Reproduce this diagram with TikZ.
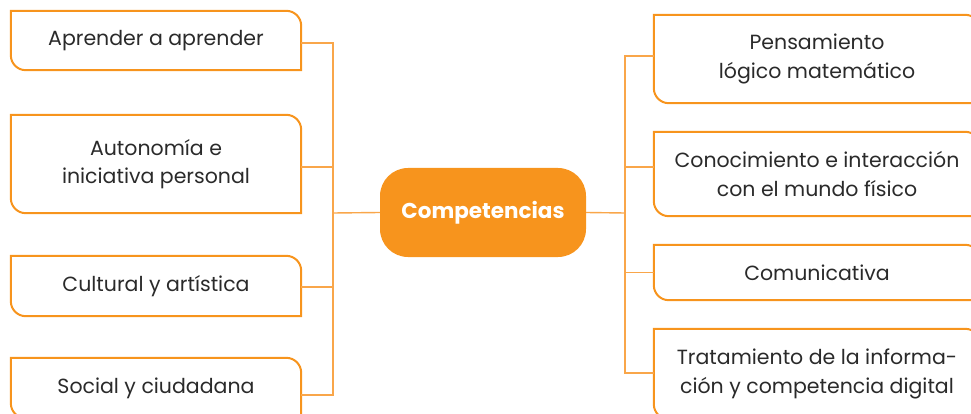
\documentclass[tikz,border=0pt]{standalone}
\usepackage{fontspec}
\setmainfont{Poppins}
\definecolor{orangeA}{HTML}{F7941D}
\definecolor{orangeL}{HTML}{F9A64A}
\definecolor{txt}{HTML}{2A2A2A}
\tikzset{
  boxtext/.style={draw=none, align=center, text=txt, inner sep=0pt,
    font=\fontsize{20.5}{28.5}\selectfont},
  boxline/.style={draw=orangeA, line width=2pt},
  conn/.style={draw=orangeL, line width=1.4pt},
  center/.style={fill=orangeA, rounded corners=28pt, text=white, inner sep=0pt,
    font=\fontsize{21.5}{24}\bfseries\selectfont}
}
\newcommand\boxshape[1]{%
  \draw[boxline] (#1.north west) -- ([xshift=-15pt]#1.north east)
    .. controls ([xshift=-6.7pt]#1.north east) and ([yshift=-6.7pt]#1.north east) .. ([yshift=-15pt]#1.north east)
    -- (#1.south east) -- ([xshift=15pt]#1.south west)
    .. controls ([xshift=6.7pt]#1.south west) and ([yshift=6.7pt]#1.south west) .. ([yshift=15pt]#1.south west) -- cycle;}
\begin{document}
\begin{tikzpicture}[x=1pt,y=-1pt]
\useasboundingbox (0,0) rectangle (971,414);
\clip (0,0) rectangle (971,414);
% left boxes
\node[boxtext, minimum width=290pt, minimum height=59pt] (L1) at (156,40.5) {Aprender a aprender};
\node[boxtext, minimum width=290pt, minimum height=98pt] (L2) at (156,164) {Autonomía e\\iniciativa personal};
\node[boxtext, minimum width=290pt, minimum height=60pt] (L3) at (156,286) {Cultural y artística};
\node[boxtext, minimum width=290pt, minimum height=60pt] (L4) at (156,388) {Social y ciudadana};
% right boxes
\node[boxtext, minimum width=326pt, minimum height=88pt] (R1) at (817,59) {Pensamiento\\lógico matemático};
\node[boxtext, minimum width=326pt, minimum height=84pt] (R2) at (817,174) {Conocimiento e interacción\\con el mundo físico};
\node[boxtext, minimum width=326pt, minimum height=55pt] (R3) at (817,272.5) {Comunicativa};
\node[boxtext, minimum width=326pt, minimum height=90pt] (R4) at (817,374) {Tratamiento de la informa-\\ción y competencia digital};
\foreach \n in {L1,L2,L3,L4,R1,R2,R3,R4} {\boxshape{\n}}
% center
\node[center, minimum width=206pt, minimum height=89pt] (C) at (483,212.5) {Competencias};
% buses
\coordinate (lb) at (333,213);
\coordinate (rb) at (625,213);
\draw[conn] ([yshift=-2.5pt]L1.east) -| (lb);
\draw[conn] ([yshift=-7pt]L4.east) -| (lb);
\draw[conn] ([yshift=-3pt]L2.east) -- ([yshift=-3pt]L2.east -| lb);
\draw[conn] ([yshift=-1pt]L3.east) -- ([yshift=-1pt]L3.east -| lb);
\draw[conn] (lb) -- (C.west);
\draw[conn] ([yshift=3pt]R1.west) -| (rb);
\draw[conn] ([yshift=1pt]R4.west) -| (rb);
\draw[conn] ([yshift=7pt]R2.west) -- ([yshift=7pt]R2.west -| rb);
\draw[conn] (R3.west) -- (R3.west -| rb);
\draw[conn] (C.east) -- (rb);
\end{tikzpicture}
\end{document}
